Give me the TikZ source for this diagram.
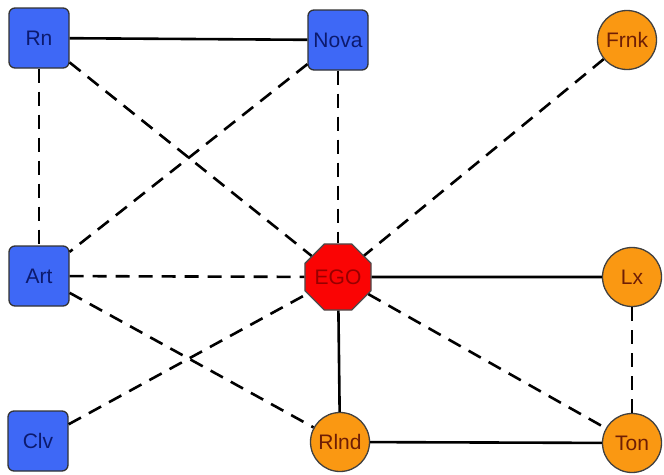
\documentclass[tikz,border=0pt]{standalone}
\usepackage{fontspec}
\setmainfont{Liberation Sans}
\usetikzlibrary{shapes.geometric}
\definecolor{altblue}{RGB}{62,104,246}
\definecolor{altink}{RGB}{12,26,110}
\definecolor{tieorange}{RGB}{250,152,18}
\definecolor{tieink}{RGB}{110,30,5}
\definecolor{egored}{RGB}{250,4,4}
\definecolor{egoink}{RGB}{150,0,0}
\tikzset{
  lbl/.style={inner sep=0pt,font=\fontsize{21}{21}\selectfont},
  alter/.style={lbl,draw=black!80,line width=1.3pt,fill=altblue,text=altink,rectangle,rounded corners=6pt,minimum size=60pt},
  friend/.style={lbl,draw=black!75,line width=1.3pt,fill=tieorange,text=tieink,circle,minimum size=59pt},
  ego/.style={lbl,draw=black!70,line width=1.3pt,fill=egored,text=egoink,regular polygon,regular polygon sides=8,minimum size=68pt},
  tie/.style={line width=2.6pt},
  weak/.style={line width=2.6pt,dash pattern=on 14pt off 9pt}
}
\begin{document}
\begin{tikzpicture}[x=1pt,y=-1pt]
\useasboundingbox (0,0) rectangle (664,474);
% nodes
\node[alter] (rn) at (39,38) {Rn};
\node[alter] (nova) at (338,40) {Nova};
\node[friend] (frnk) at (627,40) {Frnk};
\node[alter] (art) at (39,276) {Art};
\node[ego] (ego) at (338,277) {EGO};
\node[friend] (lx) at (632,277) {Lx};
\node[alter] (clv) at (38,441) {Clv};
\node[friend] (rlnd) at (340,442) {Rlnd};
\node[friend] (ton) at (632,443) {Ton};
% strong ties
\draw[tie] (rn) -- (nova);
\draw[tie] (ego) -- (lx);
\draw[tie] (ego) -- (rlnd);
\draw[tie] (rlnd) -- (ton);
% weak ties
\draw[weak] (rn) -- (art);
\draw[weak] (rn) -- (ego);
\draw[weak] (nova) -- (ego);
\draw[weak] (nova) -- (art);
\draw[weak] (frnk) -- (ego);
\draw[weak] (art) -- (ego);
\draw[weak] (art) -- (rlnd);
\draw[weak] (clv) -- (ego);
\draw[weak] (ego) -- (ton);
\draw[weak] (lx) -- (ton);
\end{tikzpicture}
\end{document}
